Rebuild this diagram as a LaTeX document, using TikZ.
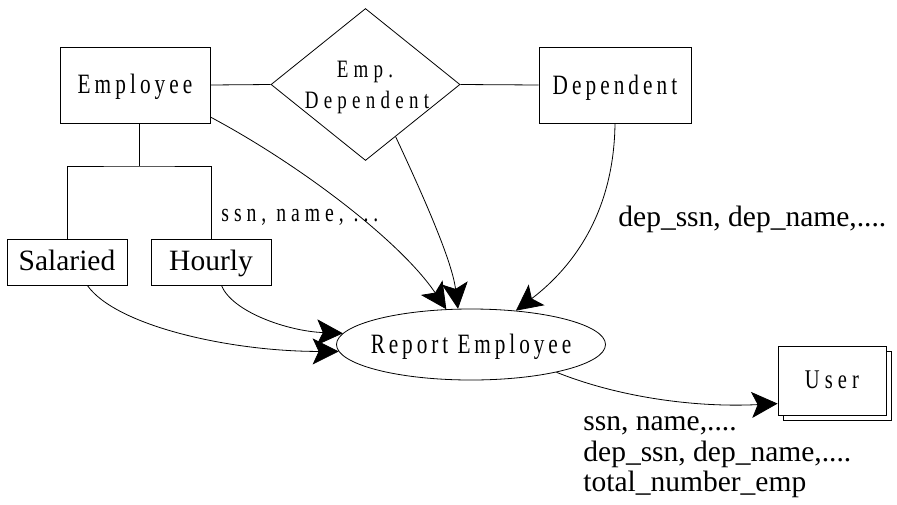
\documentclass[tikz,border=0pt]{standalone}
\usepackage{fontspec}
\setmainfont{Liberation Serif}
% narrow, letter-spaced face used for the shape labels
\newfontfamily\widefont[FakeStretch=0.76]{Liberation Serif}
\usetikzlibrary{shapes.geometric,arrows.meta}
% \spaced{size}{letter spacing}{text}
\newcommand\spaced[3]{{\widefont\fontsize{#1}{#1}\selectfont\addfontfeature{LetterSpace=#2}#3}}

\begin{document}
\begin{tikzpicture}[x=1pt,y=-1pt,line width=0.8pt,
  box/.style={draw,rectangle,inner sep=0pt,fill=white},
  flow/.style={-{Stealth[length=26pt,width=26pt,inset=6pt]}},
  plain/.style={font=\fontsize{29.5pt}{30pt}\selectfont,inner sep=0pt,anchor=base west},
  spacedlbl/.style={inner sep=0pt,anchor=base}]
\useasboundingbox (0,0) rectangle (897,504);

% entities
\node[box,minimum width=150pt,minimum height=76pt,text height=16.6pt,text depth=0pt]
  (emp) at (135,85) {\spaced{28pt}{14.5}{Employee}};
\node[box,minimum width=152pt,minimum height=76pt,text height=18pt,text depth=0pt]
  (dep) at (615,85) {\spaced{28pt}{14.5}{Dependent}};
\node[box,minimum width=120pt,minimum height=46pt,text height=17pt,text depth=0pt,
  font=\fontsize{29.5pt}{30pt}\selectfont]
  (sal) at (67,262) {Salaried};
\node[box,minimum width=120pt,minimum height=46pt,text height=17pt,text depth=0pt,
  font=\fontsize{29.5pt}{30pt}\selectfont]
  (hour) at (211,262) {Hourly};

% relationship
\node[draw,diamond,minimum width=189pt,minimum height=152pt,inner sep=0pt]
  (rel) at (365.5,84.5) {};
\node[spacedlbl] (relA) at (365,77) {\spaced{25pt}{21}{Emp.}};
\node[spacedlbl] (relB) at (367,108) {\spaced{25pt}{21}{Dependent}};

% process
\node[draw,ellipse,minimum width=269pt,minimum height=71pt,inner sep=0pt]
  (rep) at (471,344.5) {};
\node[spacedlbl] (reptext) at (471,353.3) {\spaced{28pt}{14}{Report Employee}};

% external user (stacked boxes)
\node[box,minimum width=108pt,minimum height=69pt] (userback) at (837,385.5) {};
\node[box,minimum width=108pt,minimum height=69pt,text height=15.6pt,text depth=0pt]
  (user) at (832,380.5) {\spaced{27pt}{19}{User}};

% plain connections
\draw (emp.east) -- (rel.west);
\draw (rel.east) -- (dep.west);
\coordinate (fork) at (139,166);
\draw (emp.south -| fork) -- (fork);
\draw (sal.north) |- (fork) -| (hour.north);

% data flows
\draw[flow] (emp.-23) .. controls +(90,48) and +(-46,-68) .. (rep.125);
\draw[flow] (rel.-60) .. controls +(28,60) and +(-6,-48) .. (rep.110);
\draw[flow] (dep.south) .. controls +(-1,87) and +(59,-45) .. (rep.37);
\draw[flow] (sal.-49) .. controls +(28,40) and +(-110,0) .. (rep.183);
\draw[flow] (hour.-66.5) .. controls +(11,27) and +(-54,-2) .. (rep.175);
\draw[flow] (rep.-18) .. controls +(65,26) and +(-79,4) .. (user.203);

% flow labels
\node[inner sep=0pt,anchor=base west] (lblemp) at (221,221) {\spaced{26pt}{19}{ssn, name, ...}};
\node[plain] (lbldep) at (618,226.5) {dep\_ssn, dep\_name,....};
\node[plain] (out1) at (583,430.7) {ssn, name,....};
\node[plain] (out2) at (583,461.7) {dep\_ssn, dep\_name,....};
\node[plain] (out3) at (583,491.7) {total\_number\_emp};
\end{tikzpicture}
\end{document}
